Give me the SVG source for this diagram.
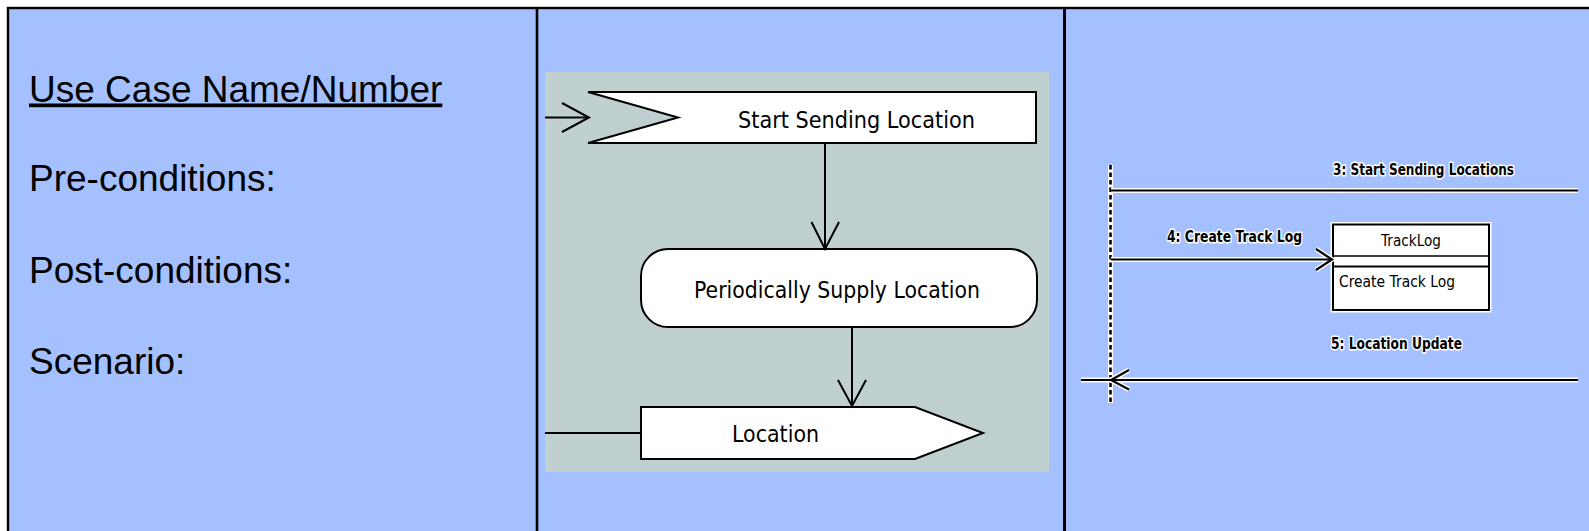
<svg xmlns="http://www.w3.org/2000/svg" width="1589" height="531" viewBox="0 0 1589 531">
  <style>
    .panel-text { font-family: "Liberation Sans", Arial, sans-serif; font-size: 37px; fill: #000; }
    .act-shape { fill: #fff; stroke: #000; stroke-width: 2; }
    .act-text { font-family: "DejaVu Sans", Verdana, sans-serif; font-size: 23px; fill: #000; }
    .flow { fill: none; stroke: #000; stroke-width: 2; }
    .halo { fill: none; stroke: #fff; stroke-width: 5; }
    .msg { fill: none; stroke: #000; stroke-width: 2.2; }
    .seq-label { font-family: "DejaVu Sans", Verdana, sans-serif; font-size: 15px; font-weight: bold; fill: #000; stroke: #fff; stroke-width: 3; paint-order: stroke; stroke-linejoin: round; }
    .seq-text { font-family: "DejaVu Sans", Verdana, sans-serif; font-size: 15px; fill: #000; }
  </style>

  <!-- page background and frame -->
  <rect x="0" y="0" width="1589" height="531" fill="#fff"/>
  <rect x="8" y="8" width="1600" height="540" fill="#a4c0ff" stroke="#000" stroke-width="2.4"/>
  <line x1="537" y1="8" x2="537" y2="531" stroke="#000" stroke-width="2.6"/>
  <line x1="1064.5" y1="8" x2="1064.5" y2="531" stroke="#000" stroke-width="3"/>

  <!-- left column: use case headings -->
  <g id="usecase-text">
    <text class="panel-text" x="29" y="101.5" text-decoration="underline">Use Case Name/Number</text>
    <text class="panel-text" x="29" y="191">Pre-conditions:</text>
    <text class="panel-text" x="29" y="282.5">Post-conditions:</text>
    <text class="panel-text" x="29" y="373.5">Scenario:</text>
  </g>

  <!-- middle column: activity diagram -->
  <rect x="545" y="72" width="504" height="400" fill="#c0d0d0"/>

  <g id="start-sending-location">
    <path class="act-shape" d="M588,92 L1036,92 L1036,143 L588,143 L678,117.5 Z"/>
    <text class="act-text" x="738" y="128" textLength="237" lengthAdjust="spacingAndGlyphs">Start Sending Location</text>
  </g>

  <g id="periodically-supply-location">
    <rect class="act-shape" x="641" y="249" width="396" height="78" rx="27" ry="27" stroke-width="1.6"/>
    <text class="act-text" x="694" y="298" textLength="286" lengthAdjust="spacingAndGlyphs">Periodically Supply Location</text>
  </g>

  <g id="location">
    <path class="act-shape" d="M641,407 L915,407 L983,433 L915,459 L641,459 Z" stroke-width="1.6"/>
    <text class="act-text" x="732" y="442" textLength="87" lengthAdjust="spacingAndGlyphs">Location</text>
  </g>

  <g id="activity-flows">
    <line class="flow" x1="545" y1="117.5" x2="588" y2="117.5"/>
    <polyline class="flow" points="562,103 589,117.5 562,132"/>
    <line class="flow" x1="825" y1="143" x2="825" y2="249"/>
    <polyline class="flow" points="811.5,222 825,249 839,222"/>
    <line class="flow" x1="852" y1="327" x2="852" y2="407"/>
    <polyline class="flow" points="838,380 852,406 866,380"/>
    <line class="flow" x1="545" y1="433" x2="641" y2="433"/>
  </g>

  <!-- right column: sequence diagram -->
  <g id="lifeline">
    <line x1="1110.5" y1="165" x2="1110.5" y2="403" stroke="#fff" stroke-width="5"/>
    <line x1="1110.5" y1="165" x2="1110.5" y2="403" stroke="#000" stroke-width="2.6" stroke-dasharray="4.5 3"/>
  </g>

  <g id="tracklog">
    <rect x="1333" y="224.5" width="156" height="85.5" fill="#fff" stroke="#fff" stroke-width="5"/>
    <rect x="1333" y="224.5" width="156" height="85.5" fill="#fff" stroke="#000" stroke-width="2"/>
    <line x1="1333" y1="256" x2="1489" y2="256" stroke="#000" stroke-width="1.6"/>
    <line x1="1333" y1="266.5" x2="1489" y2="266.5" stroke="#000" stroke-width="2"/>
    <text class="seq-text" x="1381" y="245.5" textLength="60" lengthAdjust="spacingAndGlyphs">TrackLog</text>
    <text class="seq-text" x="1339" y="287" textLength="116" lengthAdjust="spacingAndGlyphs">Create Track Log</text>
  </g>

  <g id="messages">
    <!-- 3: Start Sending Locations -->
    <line class="halo" x1="1111" y1="190.5" x2="1578" y2="190.5"/>
    <line class="msg" x1="1111" y1="190.5" x2="1578" y2="190.5"/>
    <text class="seq-label" x="1333" y="175" textLength="181" lengthAdjust="spacingAndGlyphs">3: Start Sending Locations</text>

    <!-- 4: Create Track Log -->
    <line class="halo" x1="1111" y1="259.5" x2="1330" y2="259.5"/>
    <polyline class="halo" points="1316,249 1332,259.5 1316,270"/>
    <line class="msg" x1="1111" y1="259.5" x2="1331" y2="259.5"/>
    <polyline class="msg" points="1316,249 1332,259.5 1316,270"/>
    <text class="seq-label" x="1167" y="242" textLength="135" lengthAdjust="spacingAndGlyphs">4: Create Track Log</text>

    <!-- 5: Location Update -->
    <line class="halo" x1="1081" y1="380" x2="1578" y2="380"/>
    <polyline class="halo" points="1129,370 1111,380 1129,389.5"/>
    <line class="msg" x1="1081" y1="380" x2="1578" y2="380"/>
    <polyline class="msg" points="1129,370 1111,380 1129,389.5"/>
    <text class="seq-label" x="1331" y="348.5" textLength="131" lengthAdjust="spacingAndGlyphs">5: Location Update</text>
  </g>
</svg>
